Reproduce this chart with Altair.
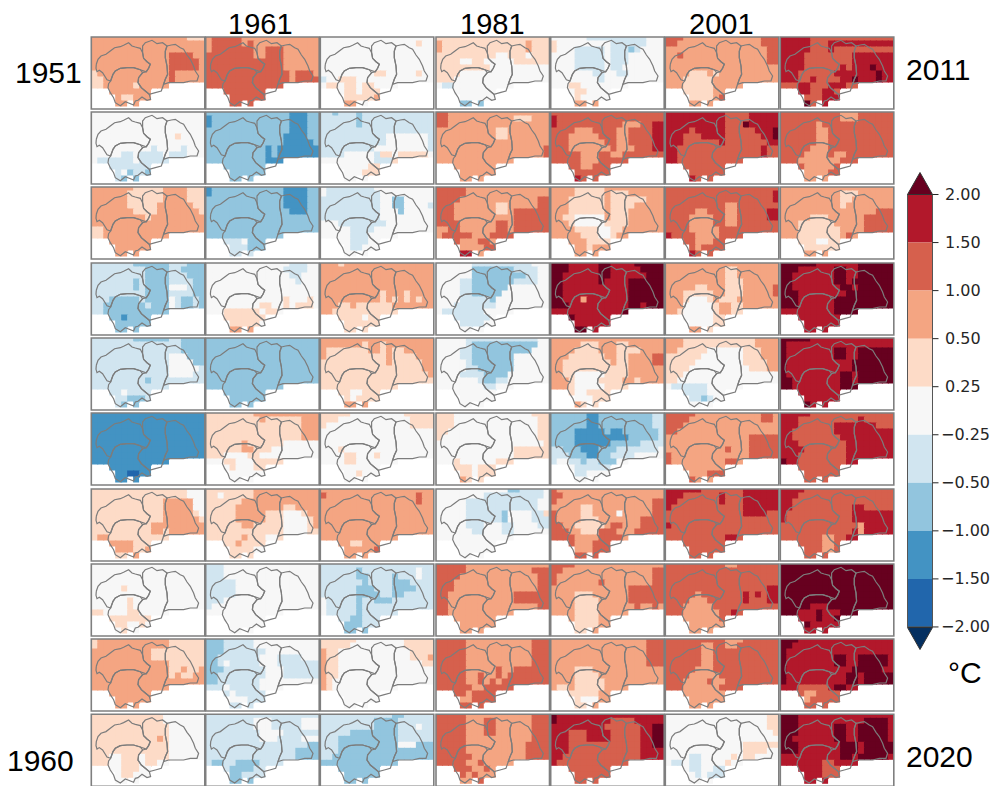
import re
import altair as alt
import pandas as pd

alt.data_transformers.disable_max_rows()

# level letter -> colour (temperature anomaly classes)
LEVELS = ["a", "b", "c", "d", "e", "f", "g", "h", "i", "j", "k"]
COLORS = ["#053061", "#2166ac", "#4393c3", "#92c5de", "#d1e5f0", "#f7f7f7",
          "#fddbc7", "#f4a582", "#d6604d", "#b2182b", "#67001f"]

# grid cells kept per column (the rest of the panel is outside the data domain)
COL_HEIGHT = [9, 9, 9, 10, 12, 12, 11, 12, 11, 11, 9, 9, 9, 8, 8, 8, 8, 8, 8]

# run-length rows (north to south) for every panel; a short row repeats its last
# letter, a short panel repeats its last row
C1 = [
 "16h3g h h 13h4ih 13h5ih 13h5ih g12hih 2g11hih 2g5hg5h h 5h2gh h",
 "f f f f 14fgf f 10fe4fef 5f2ef4ef3ef f6ef5ef 3f7e 5efd2ed 5e2d",
 "7h5g4h3g 6h6g4h3g 6h6g4h3g 6h5g6h2g 7h4g7hg 9hg9h h 2gh 2gh h",
 "7e6d3e3d 9e4d2e4d 9e4d3e3d 7ede4d4e2d 7ede4d3fe2d 9e4d4e2d 3e5de4dfe2ded 2e7de3dfe2ded 2e11d 3e2dc4d d",
 "7e6d2e4d 15e4d 15e4d 13e3f3d 13e4f2d 13e5fe 13e4fe 9ed9e e 5efe 6e3de 5e2d",
 "c c c c c c c c c c 6c2bc c",
 "16g3f 16g3f 12g5h2f 12g5h2f 12g5hgf 12g6hg 10g9h 10g2hg6h g2hg 3g4h3g 4g3h2gh 7gh",
 "f f f f 5fgf f 6fgf 6fgf 2g4f2gf 3f3g 4f2g2fgf 5fg2f",
 "g12h6g g12h6g 10h9g 10h9g 13h6g 13h2gh2gh 13hgh2g2h h",
 "12gf 12gf 13gf 13gf 11ghgf 13gf 13gf 3g2f3gf4gf 3g2f3gf2gf 5f3g2f 5f2gf f",
]
C2 = [
 "h5i13h h5ihi11h h7i2h3i7h 8i2h3i6h 13i6h 13i6h 14ih3ih 14ih4i i",
 "14d3cd c13d3cd c13d3cd 14d3cd 13d4cd 13d5cd 10dcd7c 10dcd7c 10d2c 10d2c d",
 "c12d4c2d c12d4c2d 13d4cd 13d4cd 14d3cd d d d d 3d3ef3d 4d3e3d 4de",
 "14f3ef 13f4ef 14f2ef 15fef f f 13fg3fgf 9f2g2fgf3gf 3f6gf2gf 3f7g 4f5gf 4f2h",
 "d",
 "8g11h 9gh6g3h 16g3h 16g3h 16g3h 6gh6g6f 6g2h3g8f 3g4f2g10f 3f2g3f3g 4fg3f2g f f",
 "8g11h 2gf5g11h 6g14h 5g8h2g4h 5g5h3g3fg2h 5g5h3g4fgh 6g2h5g4fgh 13g4f2g 6gh3g2f2g 5gh4g 4f4gf g",
 "3ef 3ef 3ef 5ef 5ef 5ef 3ef ef f",
 "3d5ef 3d5ef 3d7ef 2d7e3f4e3f 2def5e3f6e 3d7e3f6e 2d8e3f6e 2d7ef 3ef5ef 4ef3e 4e3fe e",
 "e 8e3f5e3f 8e3f5e3f 9e4fe 9e3f4e3f 17e2d 15e4d 15e4d e2d2e4de 4e4de 4e2d4e 4e2d",
]
C3 = [
 "f 16fgf f f f f 9f2g5fgf e2f3gf f2gf2gf2gf 4f2gf3gf 4f5gh 4f2hf",
 "2ed3ede 6ede 6ede e 11e7fe 11e7fe 9e9fe 4e5fe2gf5gf 9f3eg 8f2g 7f3g f",
 "f8e10f f9ef 10e2f2d4f 10e2f2d4fe 10e3fd5f 10ef 3f8ef 5f4ef 5f3ef 5f3ef 5f2ef f",
 "3hgh h h h h 10hg3hgh 10hghghghgh 3h2gh6g7h 2h11g 7gfg g g",
 "h 7hg2hgh h7g2hgh2g5h h10gh4g3h 11gh5g2h 17g2h 18gh g g 5g2fg 5gfg 4g2h",
 "5g9f5g 3g12f4g g14f3g f f f 3fgf 4f2g3fgf 4f2gf f 6fgf f",
 "h i15hih 16hih h h h h h h 5h2gh 9hi h",
 "e 6ed9ef2e 6e2d4ed3ef2e 7ed4e3d4e 6e3d3e4d3e 6e4d2e2d5e f5ed2e3d7e f5ed12e f5ed6e 5e2de 4e3de 4e2d",
 "6g8f5g 5g9f5g h2g12f4g h2g12f3gh h2g14f2g h2gf h2gf hgf hgf f",
 "12e2de 9e4de 9e4d3ef2e 5e8d6e 3e10d6e 3e10d3f3d 3ed 2ed d",
]
C4 = [
 "g h14ghg h14ghg 10g2f3gf3g 4g2f2g5f6g 9gf 4gf 3gf f2ef f f 4f2d",
 "2ih 2i11h3gh 2ih 10h2gh 10h2gh h 18hi 18hi h",
 "5ih 5ih 4i13h2i 3i7h2g5h2i 3i7h2gh6i 3i10h6i 4i6h2ih6i 2h2i6h2ih6i h5i3h4i 3hi3h2ih2i 8h2i 6jh",
 "6f10e3f 6f7d4e2f 6f9d2e2f 4f2e7d4e2f 4f2e6d7f 4f2e5d8f 4f5ed9f 3f7e9f f7e5f 3f6ef 4f4ef f",
 "5f12e2f 5fe7d4d2f 4f2e7d3d3f 4f2e7d6f 5fe7d6f 5f2e6d6f 4f4e4d7f 7fe2d2e7f 8f2e3f f f 4gf",
 "3g13f3g 3g14f2g 3g14f2g 2g15f2g g16f2g 18fg 13f6g 13f6g 3fg6f3g 3f3gf3g 4f2gf3g 5hg",
 "12f2d4ef 8f10ef 5f12e2f 5f12e2f 5f6ed4f2eg 5f6ed4f3e 5f3e3f2e4f2e 6f2e3f2e6f f f f 4gf",
 "5ih 5i11h3i 4i13h2i 3i14h2i 3i14h2i 2i11h6i 2i11h6i 2i15h2i 2ih h",
 "5i11h3i 5i11h3i 5i11h3i 5i11h3i 5i11h3i 5i5hi2h6i 5i2hi2hih7i 5i2hihih7i 6i2hi 5ih4i 4i2hi 4ji",
 "5i11h3i 5i3h2i6h3i 5i3h2i6h3i 5i3h2i6h3i 5i11h3i 5i10h4i 5i10h4i 6i9h4i 5i2hi5h 6i2hih 5ihi3h 4i2hi",
]
C5 = [
 "6f10e3f g9f6e3f g3f5ef3ede4f 4f5ef3e6f 4f5ef3e6f 4f5ef2e7f 7f2e2f2e5f 8fef 3f2gf 4f2gf 4fgf 4f2h",
 "i ji j11i3h2i2j 4i3h4i2h4i2j 3i5h3i2h4i2j 3i6h2i2h4i2j 3i7hi3h3i2j 5i3h2i2h6i 5i3h5i 5i2h3i i 4iji",
 "4h5g10h 4h5gh3gh 3h6gh6g3h 3h6gh4g5h 3h6gh3g6h 2h2g5fh3g6h 3hg5f4g6h 4h4g2f2g7h 5h3g2fg3h 6hg3g 6hg3h 4ih",
 "3k5j2k4j5k 3k5j2k5j4k 2k6j2k6j3k 2k6jk4j6k 2k11j6k 2k11j6k 2k3jh7j6k 3k10j2kj3k 12jk 3jkj j 6kj",
 "h 5h3g3h2gh 4h4g3h4gh 3h6g2h2g4h2i 2h8gh2g4h2i 2h11g6h 2h2g5f4g6h 3hg4f4g2hgh 3hg5f4g 4g2fg 4g3f2g 5hg",
 "6d2c9d2e 6d2c9d2e 6d2c9d2e 4d5cd2c6de 4d9c5de 4d6c5d4e 2e3d3c3d7ef 3e3d2c2d4ef e2f2ed2e3df 4f5e 4f2e3f 4gf",
 "ih 2ih i16h2i 5h2g10h2i i4h2g4hf5h2i i4h3g7h4i 2i2h5gh2i3h4i 3i2h3g3ih2h5i 4i4h4ih 4i3h3i 4i3h3i 4jii",
 "4ih 2i15h2i i16h2i i7hi8h2i 13h6i 4h3g6h6i 4h4g5h6i 4h4g6hi2hih 4h4g5h 4h4gh 4h4gh 4h2gh",
 "16h3i 16h3i 16h3i 16h3i 16h3i 4h3g12h 4h4gh 4h5gh h2gh5gh 3h5g2h 4hg3fh 4h2gh",
 "kj k9j4i5j 9j6i2j2k 3j3i4j5i2j2k 3j3i4j5i2j2k 3j12i2j2k 3j12i4j 2j13i4j j12i i",
]
C6 = [
 "3i13h3i 2i14h3i 17h2i 2hi14h2i 17h2i h 4h3ghgh 3h5gh 3h5gh 3h5gh 4h4ghi 4h",
 "10j4i5j 10j4i5j 10j3ik5j 4ji5j5i3jk 3j3i4j6i2jk 3j6ij7i2j 2j14ij2i 2j14ij2i 2ji i i 4iji",
 "i 18ij 18ij 10i2hi 5i2h3i2h5i2j 4i4h2i2h5i2j 4i4h2i2h7i 4i5hi j4i4hi 5i3hi 5ihi 4iji",
 "h 10h2gh 10h2gh 10h3gh 5h2g3h3g5hi 3h5g2h3g5hi 3hg3fgh3g6h 3h5fg2h2g7h 2hg5fg2h2g 3g5fg2g 3g5fg 6hg",
 "3h12g4h 3h12g4h 2h5g6f3g3h 6g7f3g3h 5g8f4g2h 4g10f3g2h 3gf 2gf f6ef 3f4ef 4f2edef f",
 "5i11h2ih 4i12h2ih 3ih 2ih 14h5i 14h5i 10hi3h5i i13h5i i9h2ihi h 7hi 4jih",
 "6j7i6j 3j6ij3i6j 2j7ij3i6j j12i6j 13i4j2i i ji i 10i2ji j9ijji i 4ji",
 "10i2hi i i i 17i2j 5ih7ijiji2j 4i3h6ij3i2j 3i5h11i 3i6h2iji 3i6hi 3i6h 4ih",
 "10i3hi 6i2h2i2hi 6i2hi 6i2hi 6i2hi 5i3hi 4i5hi 3i4hi2hi 3i6hi 3i7h 4i5h 4h",
 "17f2g 17f2g 17f2g 18fg f 13f4g 13f4gf 4f2e5fgf2gf f2ef2e4fgf 4f2e2fe 5fef2e f",
]
C7 = [
 "5j14i 5j3ij 5j3ij10i 4j8i7j 4j8i7j 4j6iji3jk3j 3j6i3j4jk2j 3j2ij4i2jk3jk2j 3i2j3i3j2i 3i2j2i2ji 4j3i3j 4jk2ij",
 "10i3h6i 10i3hi 6ihi 6i2hi 6i2hi 6i2hi 5i3hi 4i4hi2hi 3i7hi 4i5hi 4i4hi 4ih",
 "h 10h3gh 10h2gh 10hgh 16h3i 5h3g6h5i 3h6g5h5i 3h7g4h5i 3h7ghih 3h3g2f2g 4h6g h",
 "6k7j6k 3k6j2k2j6k 2k7j2k2j6k 2k7j2kj7k 2k8j2kj6k 3k8j8k 3k6j10k 3k6j10k 9j4k 9j j j",
 "5kj kj k8j2k2j6k k8j2k2j6k k11j7k k11j7k k9j2kj6k 2k8j2kj6k 2k8j3k j j 4jkj",
 "5j14i 3j10ij4i 3j6i7j3i 2j7i10j 2j8i9j 3j8i8j 4j7i8j 3j8i8j k2j8i2j i i 4ji",
 "4ji 3ji 2ji 2j10i2j5i j11i6j j11i7j 13ih5j 12ijh5j 7i2h2i2j 7i2hi 7i2hi i",
 "k k k k k k k 5k3jk 3k3jk3j3k 6jk2jk 4jk3j2j j",
 "3kj 2kj kj k8j2k2j5kj k8j2k2j5kj k11j5kj k10j2kj5k k10j2kj5kj 3j5ij2kj 4i2h3i 4ihii 4ji",
 "3kj 3k11j4kj 3k6j2k2j5kj 3k6j2k2j5kj 2k7j2k2j5kj 3k7j3kj5kj 3k7j3kj6k 10j2kj5kj 7j2i4j 7j2i 7j2i j",
]
PANELS = [C1, C2, C3, C4, C5, C6, C7]

# outlines, traced in a 3x magnified panel with its corner at (18, 18)
WEST = [(33,100),(38,85),(47,75),(62,70),(75,60),(88,50),(105,47),(115,43),(130,35),(140,45),(150,48),(165,52),(172,65),(175,82),(185,92),(195,100),(190,112),(183,122),(165,116),(145,110),(125,110),(105,112),(90,120),(83,130),(76,150),(65,146),(52,125),(42,118),(35,122),(32,112),(33,100)]
SOUTH = [(76,150),(83,130),(90,120),(105,112),(125,110),(145,110),(165,116),(172,125),(160,140),(158,155),(168,170),(180,180),(192,190),(196,205),(185,208),(170,198),(158,208),(150,210),(145,222),(130,216),(120,212),(105,224),(90,215),(85,200),(75,185),(68,170),(70,158),(76,150)]
CENTER = [(172,125),(183,122),(190,112),(195,100),(185,92),(175,82),(172,65),(172,45),(180,35),(200,28),(215,38),(232,35),(245,45),(240,60),(240,80),(245,105),(247,130),(240,145),(235,160),(228,180),(210,185),(192,190),(180,180),(168,170),(158,155),(160,140),(172,125)]
EAST = [(245,45),(258,42),(270,40),(285,50),(295,55),(305,72),(315,85),(325,105),(330,120),(340,135),(335,150),(315,150),(295,155),(270,155),(250,155),(235,160),(240,145),(247,130),(245,105),(240,80),(240,60),(245,45)]

COL_LEFT = [91.3, 205.7, 320.3, 436.0, 550.7, 665.3, 780.3]
ROW_TOP = [37, 112, 187, 263, 338, 413, 489, 564, 639, 714.3]
PANEL_W, PANEL_H = 113.5, 72.0
CELL_W, CELL_H, ROW_SHIFT = PANEL_W / 19, 6.0, 3.5
OVERLAP = 1.0  # a cell runs under its right and lower neighbours, so no seams show


def expand(row):
    out = ""
    for n, ch in re.findall(r"(\d*)([a-k])", row):
        out += ch * (int(n) if n else 1)
    return (out + out[-1] * 19)[:19]


cells, frames, lines = [], [], []
for ci, col in enumerate(PANELS):
    for ri, panel in enumerate(col):
        rows = [expand(r) for r in panel.split()]
        rows += [rows[-1]] * (12 - len(rows))
        x0, y0 = COL_LEFT[ci], ROW_TOP[ri]
        frames.append(dict(x=x0, x2=x0 + PANEL_W, y=y0, y2=y0 + PANEL_H))
        for r in range(12):
            for c in range(19):
                if r >= COL_HEIGHT[c]:
                    continue
                right = x0 + (c + 1) * CELL_W
                if c < 18 and r < COL_HEIGHT[c + 1]:
                    right += OVERLAP
                bottom = y0 + CELL_H * r + ROW_SHIFT
                if r + 1 < COL_HEIGHT[c]:
                    bottom += OVERLAP
                cells.append(dict(
                    x=round(x0 + c * CELL_W, 2), x2=round(right, 2),
                    y=round(y0 + max(0, CELL_H * (r - 1) + ROW_SHIFT), 2),
                    y2=round(bottom, 2), level=rows[r][c]))
        for pi, poly in enumerate([WEST, SOUTH, CENTER, EAST]):
            for oi, (px, py) in enumerate(poly):
                lines.append(dict(x=round(x0 + (px - 18) / 3, 1), y=round(y0 + (py - 18) / 3, 1),
                                  g=f"{ci}-{ri}-{pi}", o=oi))

X = alt.Scale(domain=[8, 990], nice=False, zero=False)
Y = alt.Scale(domain=[786, 8], nice=False, zero=False)
xe = alt.X("x:Q", scale=X, axis=None)
ye = alt.Y("y:Q", scale=Y, axis=None)
color_scale = alt.Scale(domain=LEVELS, range=COLORS)

cell_layer = alt.Chart(pd.DataFrame(cells)).mark_rect(strokeWidth=0).encode(
    x=xe, x2="x2:Q", y=ye, y2="y2:Q", color=alt.Color("level:N", scale=color_scale, legend=None))
line_layer = alt.Chart(pd.DataFrame(lines)).mark_line(
    color="#7c7c7c", strokeWidth=1.2, interpolate="linear").encode(
    x=xe, y=ye, detail="g:N", order="o:Q")
frame_layer = alt.Chart(pd.DataFrame(frames)).mark_rect(
    fillOpacity=0, stroke="#7f7f7f", strokeWidth=1.6).encode(x=xe, x2="x2:Q", y=ye, y2="y2:Q")

# colour bar
CB_POS = ["2.00", "1.50", "1.00", "0.50", "0.25"]
CB_NEG = ["\u22120.25", "\u22120.50", "\u22121.00", "\u22121.50", "\u22122.00"]
CB_LABELS = CB_POS + CB_NEG
CB_LEVELS = ["j", "i", "h", "g", "f", "e", "d", "c", "b"]
CB_L, CB_R, CB_T, CB_STEP = 907.5, 932.5, 194.5, 48.05
cb_bands = pd.DataFrame([dict(x=CB_L, x2=CB_R, y=CB_T + i * CB_STEP, y2=CB_T + (i + 1) * CB_STEP, level=l)
                         for i, l in enumerate(CB_LEVELS)])
cb_ticks = pd.DataFrame([dict(x=CB_R, x2=CB_R + 6, y=CB_T + i * CB_STEP, label=t,
                              tx=945 if t in CB_POS else 941) for i, t in enumerate(CB_LABELS)])
cb_frame = pd.DataFrame([dict(x=CB_L, x2=CB_R, y=CB_T, y2=CB_T + 9 * CB_STEP)])
band_layer = alt.Chart(cb_bands).mark_rect(strokeWidth=0).encode(
    x=xe, x2="x2:Q", y=ye, y2="y2:Q", color=alt.Color("level:N", scale=color_scale, legend=None))
cb_frame_layer = alt.Chart(cb_frame).mark_rect(
    fillOpacity=0, stroke="#555555", strokeWidth=1).encode(x=xe, x2="x2:Q", y=ye, y2="y2:Q")
tick_layer = alt.Chart(cb_ticks).mark_rule(color="#262626", strokeWidth=1).encode(x=xe, x2="x2:Q", y=ye)
tick_text = alt.Chart(cb_ticks).mark_text(
    align="left", baseline="middle", font="DejaVu Sans", fontSize=16, color="#262626").encode(
    x=alt.X("tx:Q", scale=X, axis=None), y=ye, text="label:N")
tri_up = alt.Chart(pd.DataFrame([dict(x=920, y=183.5)])).mark_point(
    shape="M-1,0.88L0,-0.88L1,0.88Z", size=625, filled=True, fill="#67001f", stroke="#333333",
    strokeWidth=1, opacity=1).encode(x=xe, y=ye)
tri_dn = alt.Chart(pd.DataFrame([dict(x=920, y=638.5)])).mark_point(
    shape="M-1,-0.88L0,0.88L1,-0.88Z", size=625, filled=True, fill="#053061", stroke="#333333",
    strokeWidth=1, opacity=1).encode(x=xe, y=ye)

# year and unit labels
TOP_TITLES = ["1961", "1981", "2001"]
TOP_X = [228, 460, 689]
TOP_Y = [34, 34, 34]
TITLES = ["1951", "2011", "1960", "2020", "\u00b0C"]
TITLE_X = [15, 906, 7, 906, 948]
TITLE_Y = [83, 80, 771, 767, 683]
top_layer = alt.Chart(pd.DataFrame(dict(x=TOP_X, y=TOP_Y, t=TOP_TITLES))).mark_text(
    align="left", baseline="alphabetic", font="Liberation Sans", fontSize=29, color="#000000").encode(
    x=xe, y=ye, text="t:N")
title_layer = alt.Chart(pd.DataFrame(dict(x=TITLE_X, y=TITLE_Y, t=TITLES))).mark_text(
    align="left", baseline="alphabetic", font="Liberation Sans", fontSize=30, color="#000000").encode(
    x=xe, y=ye, text="t:N")

chart = alt.layer(
    cell_layer, line_layer, frame_layer, band_layer, cb_frame_layer, tick_layer, tick_text,
    tri_up, tri_dn, top_layer, title_layer
).properties(width=982, height=778, padding=0, autosize=alt.AutoSizeParams(type="none"),
             background="white").configure_view(stroke=None)

chart.save("out.html", embed_options={"renderer": "svg", "actions": False})
